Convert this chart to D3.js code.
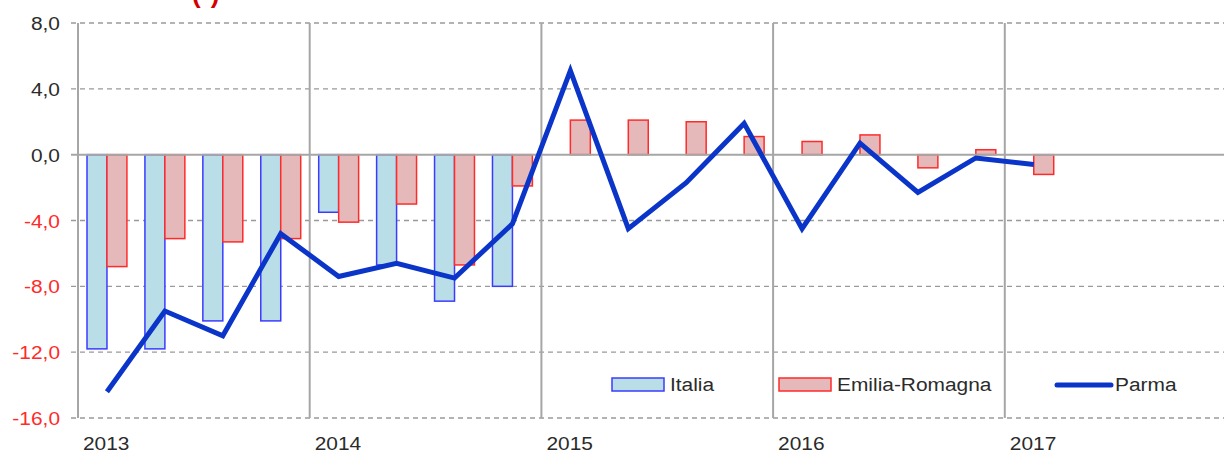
<!DOCTYPE html>
<html>
<head>
<meta charset="utf-8">
<script src="https://cdn.jsdelivr.net/npm/d3@7"></script>
<style>
  html, body { margin: 0; padding: 0; background: #fff; }
  svg { display: block; font-family: "Liberation Sans", Arial, sans-serif; }
  .grid line { stroke: #9a9a9a; stroke-width: 1.3; stroke-dasharray: 5,4; }
  .year-line { stroke: #a6a6a6; stroke-width: 2; }
  .zero-line { stroke: #a6a6a6; stroke-width: 2; }
  .lbl { font-size: 19px; fill: #2b2b2b; }
</style>
</head>
<body>
<svg></svg>
<script>
// Data
var years = ["2013", "2014", "2015", "2016", "2017"];
var quarters = [];
years.forEach(function (y) { ["T1", "T2", "T3", "T4"].forEach(function (q) { quarters.push(y + "-" + q); }); });

var series = ["Italia", "Emilia-Romagna"];
var italia = [-11.8, -11.8, -10.1, -10.1, -3.5, -6.7, -8.9, -8.0];
var emilia = [-6.8, -5.1, -5.3, -5.1, -4.1, -3.0, -6.7, -1.9, 2.1, 2.1, 2.0, 1.1, 0.8, 1.2, -0.8, 0.3, -1.2];
var parma = [-14.4, -9.5, -11.0, -4.8, -7.4, -6.6, -7.5, -4.2, 5.1, -4.5, -1.7, 1.9, -4.5, 0.7, -2.3, -0.2, -0.6];
var yTicks = [8, 4, 0, -4, -8, -12, -16];

// Layout
var svgWidth = 1224,
    svgHeight = 453,
    plotLeft = 78,
    yearWidth = 231.7,
    plotRight = plotLeft + yearWidth * years.length,
    yTop = 23,
    yBottom = 418,
    textScale = 1.1;

var colors = {
  italiaFill: "#b9dee8", italiaStroke: "#3b3bff",
  emiliaFill: "#e5b9b9", emiliaStroke: "#ff2b2b",
  parma: "#0a35c8"
};

var svg = d3.select("svg").attr("width", svgWidth).attr("height", svgHeight);

var y = d3.scaleLinear().domain([-16, 8]).range([yBottom, yTop]);
var xYear = d3.scaleBand().domain(years).range([plotLeft, plotRight]);
var xQ = d3.scaleBand().domain(quarters).range([plotLeft, plotRight]);
var xS = d3.scaleBand().domain(series).range([9, xQ.bandwidth() - 9]);

function fmt(v) { return d3.format(".1f")(v).replace(".", ",").replace("−", "-"); }

// horizontal grid
svg.append("g").classed("grid", true)
  .selectAll("line")
  .data(yTicks.filter(function (d) { return d !== 0; }))
  .enter().append("line")
    .attr("x1", plotLeft - 7).attr("x2", svgWidth)
    .attr("y1", function (d) { return y(d); })
    .attr("y2", function (d) { return y(d); });

// vertical year separators
svg.append("g").selectAll("line")
  .data(years)
  .enter().append("line")
    .classed("year-line", true)
    .attr("x1", function (d) { return xYear(d); })
    .attr("x2", function (d) { return xYear(d); })
    .attr("y1", yTop).attr("y2", yBottom);

// y labels
svg.append("g").selectAll("text")
  .data(yTicks)
  .enter().append("text")
    .classed("lbl", true)
    .attr("text-anchor", "end")
    .attr("transform", function (d) { return "translate(" + [60, y(d) + 7] + ") scale(" + textScale + ",1)"; })
    .style("fill", function (d) { return d < 0 ? "#ff2a2a" : "#2b2b2b"; })
    .text(fmt);

// year labels
svg.append("g").selectAll("text")
  .data(years)
  .enter().append("text")
    .classed("lbl", true)
    .attr("transform", function (d) { return "translate(" + [xYear(d) + 5, 450] + ") scale(" + textScale + ",1)"; })
    .text(function (d) { return d; });

// bars
function drawBars(values, name, fill, stroke) {
  svg.append("g").selectAll("rect")
    .data(values)
    .enter().append("rect")
      .attr("x", function (d, i) { return xQ(quarters[i]) + xS(name); })
      .attr("width", xS.bandwidth())
      .attr("y", function (d) { return y(Math.max(0, d)); })
      .attr("height", function (d) { return Math.abs(y(d) - y(0)); })
      .style("fill", fill)
      .style("stroke", stroke)
      .style("stroke-width", 1.5);
}
drawBars(italia, "Italia", colors.italiaFill, colors.italiaStroke);
drawBars(emilia, "Emilia-Romagna", colors.emiliaFill, colors.emiliaStroke);

// zero line
svg.append("line").classed("zero-line", true)
  .attr("x1", plotLeft - 7).attr("x2", svgWidth)
  .attr("y1", y(0)).attr("y2", y(0));

// Parma line
var line = d3.line()
  .x(function (d, i) { return xQ(quarters[i]) + xQ.bandwidth() / 2; })
  .y(function (d) { return y(d); });

svg.append("path")
  .datum(parma)
  .attr("d", line)
  .style("fill", "none")
  .style("stroke", colors.parma)
  .style("stroke-width", 5)
  .style("stroke-linejoin", "miter");

// legend
var legend = svg.append("g");
legend.append("rect").attr("x", 612).attr("y", 378).attr("width", 52).attr("height", 13)
  .style("fill", colors.italiaFill).style("stroke", colors.italiaStroke).style("stroke-width", 1.5);
legend.append("text").classed("lbl", true)
  .attr("transform", "translate(670,391) scale(" + textScale + ",1)").text("Italia");
legend.append("rect").attr("x", 779).attr("y", 378).attr("width", 52).attr("height", 13)
  .style("fill", colors.emiliaFill).style("stroke", colors.emiliaStroke).style("stroke-width", 1.5);
legend.append("text").classed("lbl", true)
  .attr("transform", "translate(837,391) scale(" + textScale + ",1)").text("Emilia-Romagna");
legend.append("line").attr("x1", 1057).attr("x2", 1111).attr("y1", 385).attr("y2", 385)
  .style("stroke", colors.parma).style("stroke-width", 5).style("stroke-linecap", "round");
legend.append("text").classed("lbl", true)
  .attr("transform", "translate(1115,391) scale(" + textScale + ",1)").text("Parma");

// cut-off title marker
svg.append("text")
  .attr("x", 192).attr("y", 3)
  .style("font-size", "26px").style("font-weight", "bold").style("fill", "#d40000")
  .text("(*)");
</script>
</body>
</html>
